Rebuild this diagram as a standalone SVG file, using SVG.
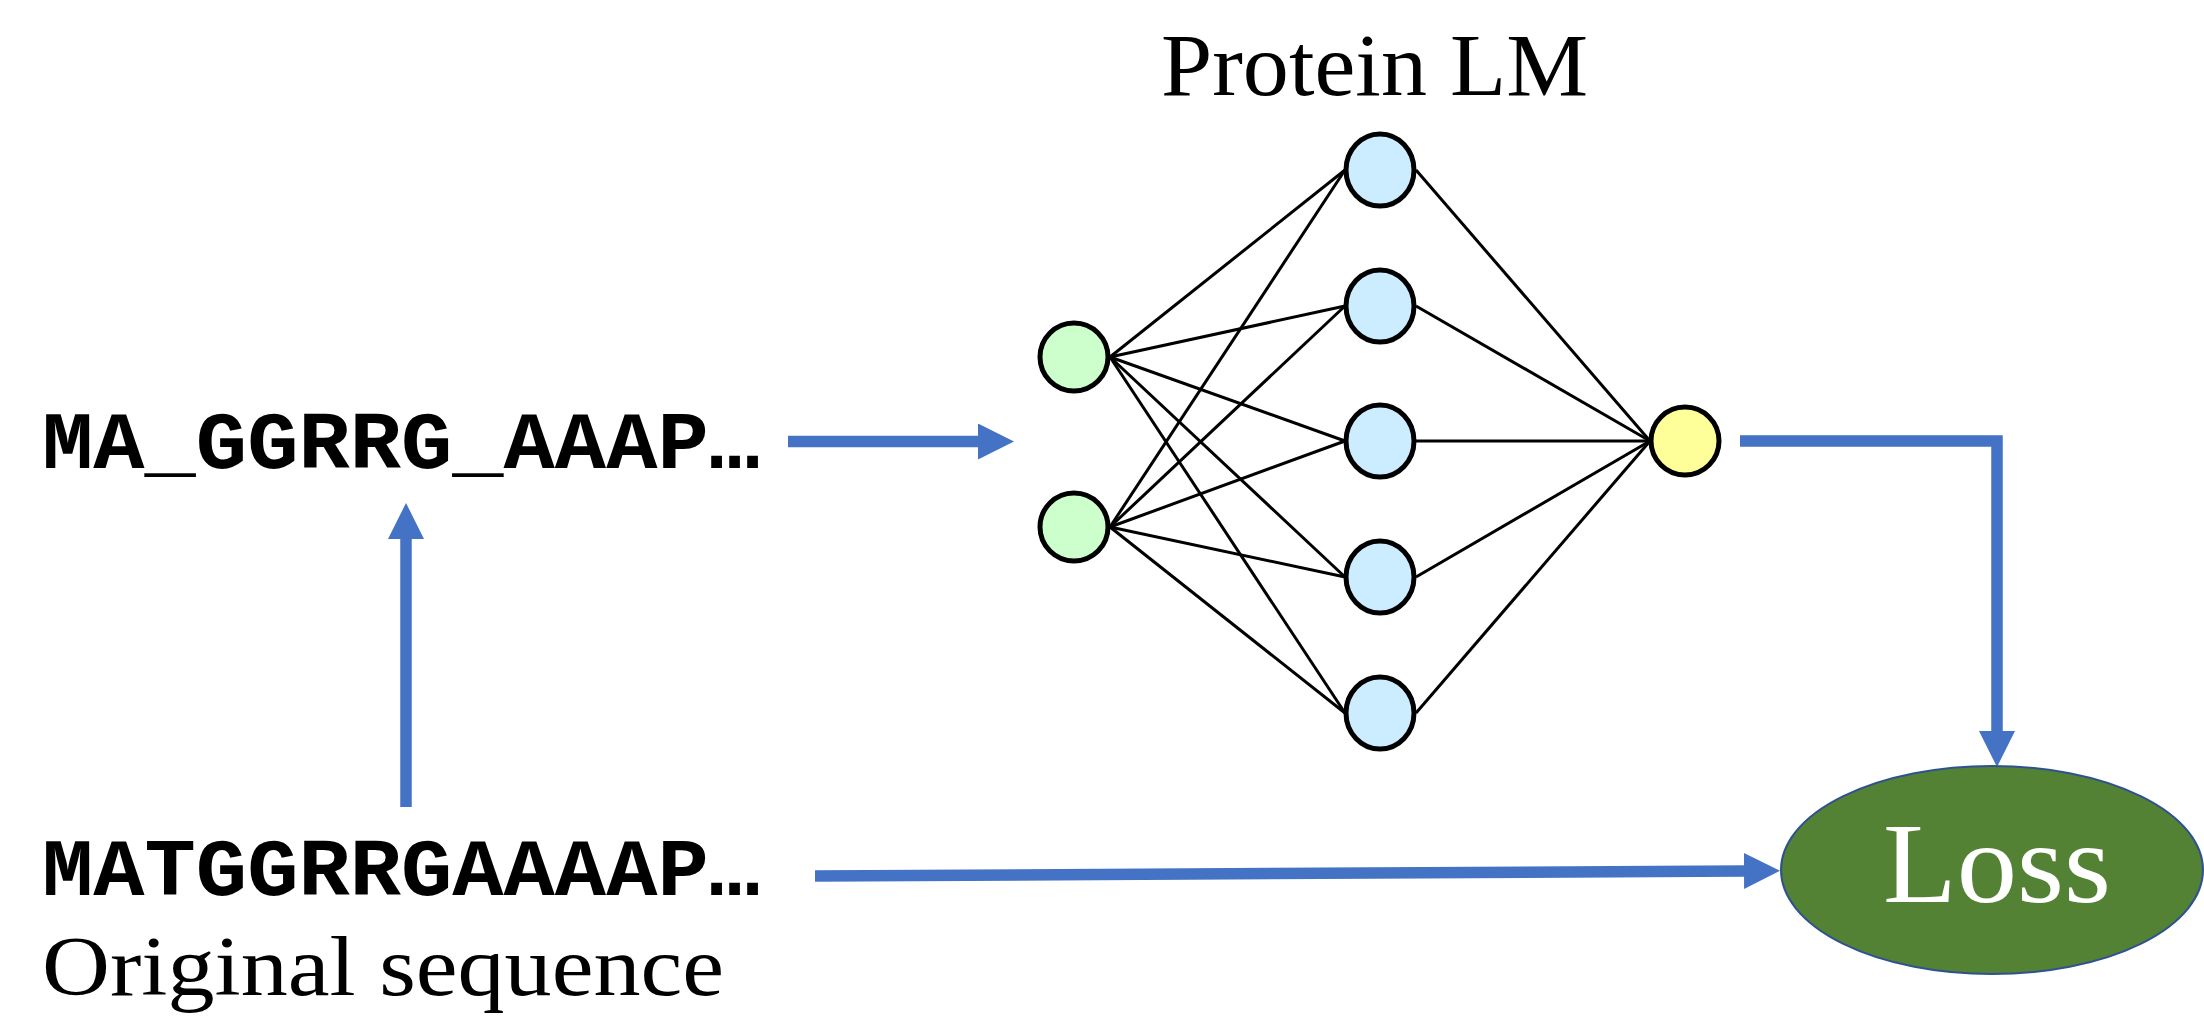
<svg xmlns="http://www.w3.org/2000/svg" width="2204" height="1016" viewBox="0 0 2204 1016">
<style>
.seq{font-family:"Courier New","Liberation Mono",monospace;font-weight:bold;font-size:82px;fill:#000}
.lbl{font-family:"Palatino Linotype","Book Antiqua","Liberation Serif",serif;font-size:88px;fill:#000}
.edge{stroke:#000;stroke-width:3;fill:none}
.arrow{stroke:#4472C4;stroke-width:11.5;fill:none;stroke-linejoin:miter}
.n{stroke:#000;stroke-width:5}
.in{fill:#CCFFCC}
.hid{fill:#CCECFF}
.out{fill:#FFFF99}
</style>
<defs>
<marker id="ah" markerWidth="36" markerHeight="36" refX="0" refY="18" orient="auto" markerUnits="userSpaceOnUse" viewBox="0 0 36 36">
<path d="M0,0 L36,18 L0,36 z" fill="#4472C4"/>
</marker>
</defs>
<rect width="2204" height="1016" fill="#fff"/>

<g id="title"><text class="lbl" x="1161" y="95" textLength="427" lengthAdjust="spacingAndGlyphs">Protein LM</text></g>

<g id="connectors">
<g id="nn-edges">
<line class="edge" x1="1110" y1="357" x2="1345" y2="170"/>
<line class="edge" x1="1110" y1="357" x2="1345" y2="306"/>
<line class="edge" x1="1110" y1="357" x2="1345" y2="441"/>
<line class="edge" x1="1110" y1="357" x2="1345" y2="577"/>
<line class="edge" x1="1110" y1="357" x2="1345" y2="713"/>
<line class="edge" x1="1110" y1="527" x2="1345" y2="170"/>
<line class="edge" x1="1110" y1="527" x2="1345" y2="306"/>
<line class="edge" x1="1110" y1="527" x2="1345" y2="441"/>
<line class="edge" x1="1110" y1="527" x2="1345" y2="577"/>
<line class="edge" x1="1110" y1="527" x2="1345" y2="713"/>
<line class="edge" x1="1416" y1="170" x2="1650" y2="441"/>
<line class="edge" x1="1416" y1="306" x2="1650" y2="441"/>
<line class="edge" x1="1416" y1="441" x2="1650" y2="441"/>
<line class="edge" x1="1416" y1="577" x2="1650" y2="441"/>
<line class="edge" x1="1416" y1="713" x2="1650" y2="441"/>
</g>
<path class="arrow" d="M788,441.5 H978" marker-end="url(#ah)"/>
<path class="arrow" d="M406,807 V539" marker-end="url(#ah)"/>
<path class="arrow" d="M1740,441 H1997 V731" marker-end="url(#ah)"/>
<path class="arrow" d="M815,876 L1744,871" marker-end="url(#ah)"/>
</g>

<g id="input1"><circle class="n in" cx="1074" cy="357" r="34"/></g>
<g id="input2"><circle class="n in" cx="1074" cy="527" r="34"/></g>
<g id="hidden1"><ellipse class="n hid" cx="1380" cy="170" rx="34" ry="36"/></g>
<g id="hidden2"><ellipse class="n hid" cx="1380" cy="306" rx="34" ry="36"/></g>
<g id="hidden3"><ellipse class="n hid" cx="1380" cy="441" rx="34" ry="36"/></g>
<g id="hidden4"><ellipse class="n hid" cx="1380" cy="577" rx="34" ry="36"/></g>
<g id="hidden5"><ellipse class="n hid" cx="1380" cy="713" rx="34" ry="36"/></g>
<g id="output"><circle class="n out" cx="1685" cy="441" r="34"/></g>

<g id="masked"><text class="seq" x="42" y="468" textLength="718" lengthAdjust="spacingAndGlyphs">MA_GGRRG_AAAP…</text></g>
<g id="original"><text class="seq" x="42" y="895" textLength="718" lengthAdjust="spacingAndGlyphs">MATGGRRGAAAAP…</text>
<text class="lbl" x="42" y="995" textLength="682" lengthAdjust="spacingAndGlyphs" style="font-size:84px">Original sequence</text></g>

<g id="loss">
<ellipse cx="1992" cy="870" rx="211" ry="104" fill="#548235" stroke="#2F528F" stroke-width="2"/>
<text x="1883" y="902" textLength="228" lengthAdjust="spacingAndGlyphs" style="font-family:'Palatino Linotype','Book Antiqua','Liberation Serif',serif;font-size:114px;fill:#fff">Loss</text>
</g>
</svg>
